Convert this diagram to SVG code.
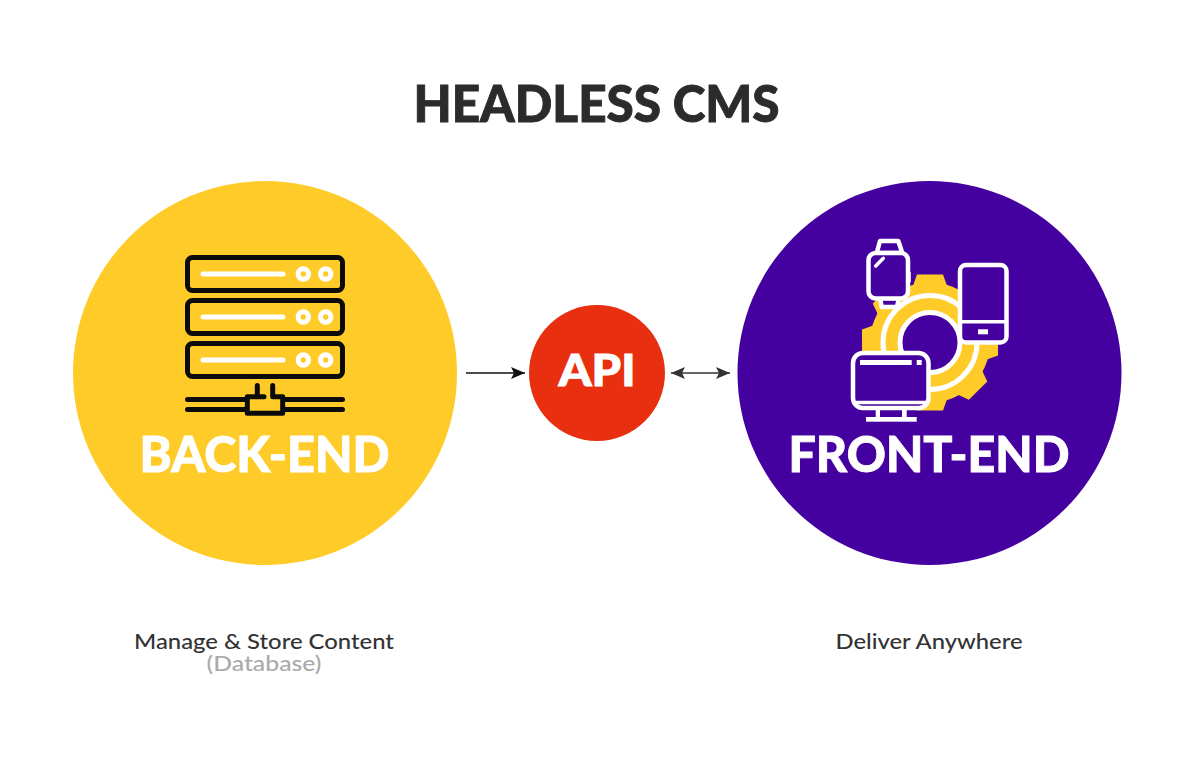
<svg xmlns="http://www.w3.org/2000/svg" width="1194" height="759" viewBox="0 0 1194 759">
<style>
.t{font-family:"Lato","Liberation Sans",sans-serif;font-weight:900;text-anchor:middle;stroke-width:.9;paint-order:stroke}
.s{font-family:"Lato","Liberation Sans",sans-serif;font-weight:500;text-anchor:middle;font-size:22px}
.k{fill:none;stroke:#0b0b0b;stroke-width:5;stroke-linecap:round;stroke-linejoin:round}
.w{fill:none;stroke:#fff;stroke-width:4.5;stroke-linecap:round;stroke-linejoin:round}
.d{fill:#4500A0;stroke:#fff;stroke-width:4.5;stroke-linejoin:round}
.f{fill:#fff}
</style>
<defs>
<marker id="a1" markerUnits="userSpaceOnUse" markerWidth="16" markerHeight="14" refX="15" refY="7" orient="auto-start-reverse"><path d="M1 1L15 7L1 13L4 7Z" fill="#111"/></marker>
<marker id="a2" markerUnits="userSpaceOnUse" markerWidth="16" markerHeight="14" refX="15" refY="7" orient="auto-start-reverse"><path d="M1 1L15 7L1 13L4 7Z" fill="#333"/></marker>
<g id="row"><rect x="187.500" y="-16.500" width="155" height="33" rx="5" class="k"/><path d="M203 0H283" stroke="#fff" stroke-width="5" stroke-linecap="round"/><circle cx="303.300" r="5.200" fill="none" stroke="#fff" stroke-width="5"/><circle cx="325.700" r="5.200" fill="none" stroke="#fff" stroke-width="5"/></g>
<polygon id="tooth" points="917,273 943,273 948,287 912,287" fill="#FFCB29"/>
</defs>
<rect width="1194" height="759" fill="#fff"/>
<text x="596.500" y="122" class="t" font-size="51" fill="#2b2b2b" stroke="#2b2b2b" textLength="366" lengthAdjust="spacingAndGlyphs">HEADLESS CMS</text>
<g id="connectors">
<line x1="466" y1="373" x2="525" y2="373" stroke="#111" stroke-width="1.400" marker-end="url(#a1)"/>
<line x1="671" y1="373" x2="730" y2="373" stroke="#333" stroke-width="1.500" marker-start="url(#a2)" marker-end="url(#a2)"/>
</g>
<g id="back-end">
<circle cx="265" cy="373" r="192" fill="#FFCB29"/>
<use href="#row" y="274"/><use href="#row" y="317"/><use href="#row" y="360"/>
<path class="k" d="M187.500 399.500H246M284 399.500H342.500M187.500 409.500H246M284 409.500H342.500"/>
<path class="k" d="M257.300 385.500V396.700H247.300V413.300H282.700V396.700H272.700V385.500M257.300 396.700H264"/>
<text x="264.500" y="472" class="t" font-size="50" fill="#fff" stroke="#fff" textLength="250" lengthAdjust="spacingAndGlyphs">BACK-END</text>
</g>
<g id="api">
<circle cx="597" cy="373" r="68" fill="#E83010"/>
<text x="597" y="386" class="t" font-size="44" fill="#fff" stroke="#fff" textLength="77" lengthAdjust="spacingAndGlyphs">API</text>
</g>
<g id="front-end">
<circle cx="929.500" cy="373" r="192" fill="#4500A0"/>
<g transform="translate(0 1.500)">
<circle cx="930" cy="341" r="60" fill="#FFCB29"/>
<use href="#tooth"/>
<use href="#tooth" transform="rotate(45 930 341)"/>
<use href="#tooth" transform="rotate(90 930 341)"/>
<use href="#tooth" transform="rotate(135 930 341)"/>
<use href="#tooth" transform="rotate(180 930 341)"/>
<use href="#tooth" transform="rotate(225 930 341)"/>
<use href="#tooth" transform="rotate(270 930 341)"/>
<use href="#tooth" transform="rotate(315 930 341)"/>
<circle cx="930" cy="341" r="47" fill="none" stroke="#fff" stroke-width="5"/>
<circle cx="930" cy="341" r="30" fill="#4500A0" stroke="#fff" stroke-width="5"/>
</g>
<g>
<path class="d" d="M876.700 253L880 241H898.300L902.300 253Z"/>
<path class="d" d="M880 298L881.700 307H896.700L899.300 298Z"/>
<rect x="868.500" y="253" width="39.500" height="45.500" rx="7" class="d"/>
<path d="M909.500 272V282" stroke="#fff" stroke-width="2.500"/>
<path class="w" d="M875.700 266L883.300 258.300" style="stroke-width:3.500"/>
</g>
<g>
<rect x="960" y="265" width="46.500" height="77.500" rx="6" class="d"/>
<path d="M960 321.700H1006.500" stroke="#fff" stroke-width="3.500"/>
<rect x="978" y="329.300" width="10" height="5" class="f"/>
</g>
<g>
<rect x="866" y="417" width="50.700" height="4.700" class="f"/>
<rect x="875.700" y="409" width="4.300" height="9" class="f"/>
<rect x="902" y="409" width="4.700" height="9" class="f"/>
<rect x="853" y="353" width="75.500" height="55" rx="10" class="d"/>
<path d="M853 402.500H928.500" stroke="#fff" stroke-width="3.500"/>
<rect x="860" y="360" width="51.700" height="5" class="f"/>
<rect x="916.700" y="360" width="5" height="5" class="f"/>
</g>
<text x="929" y="472" class="t" font-size="50" fill="#fff" stroke="#fff" textLength="281" lengthAdjust="spacingAndGlyphs">FRONT-END</text>
</g>
<text x="264" y="649" class="s" fill="#333" textLength="260" lengthAdjust="spacingAndGlyphs">Manage &amp; Store Content</text>
<text x="264" y="671" class="s" fill="#aaa" textLength="115" lengthAdjust="spacingAndGlyphs">(Database)</text>
<text x="929" y="649" class="s" fill="#333" textLength="187" lengthAdjust="spacingAndGlyphs">Deliver Anywhere</text>
</svg>
